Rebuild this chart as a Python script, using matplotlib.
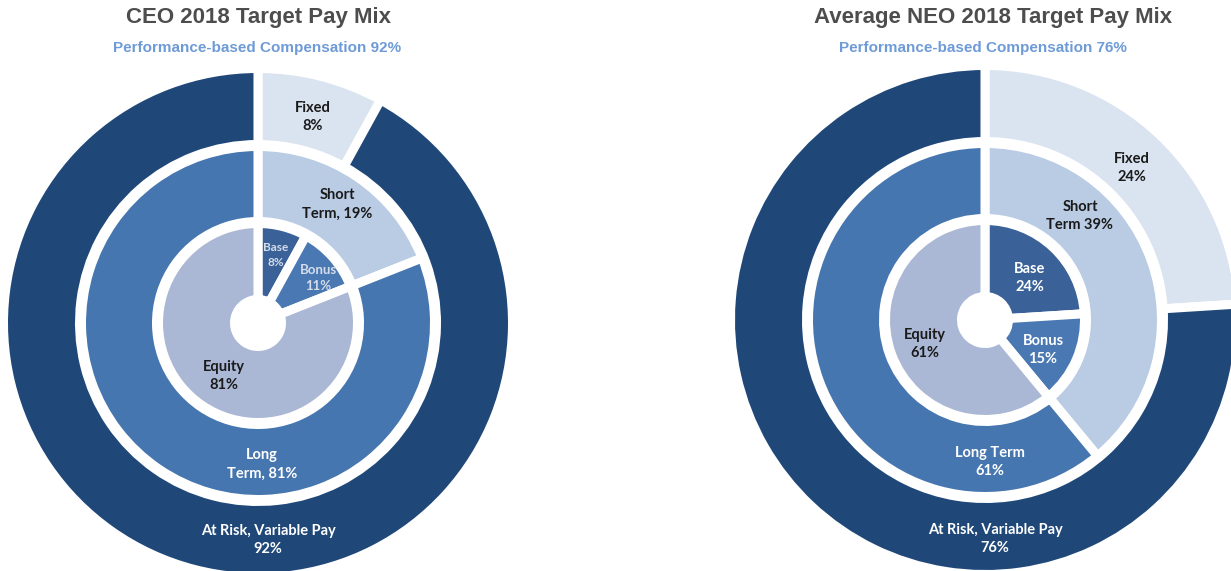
import matplotlib
matplotlib.use("Agg")
import matplotlib.pyplot as plt

# ---------------- data ----------------
ceo_title = "CEO 2018 Target Pay Mix"
ceo_subtitle = "Performance-based Compensation 92%"
ceo_outer_values = [8, 92]
ceo_outer_text = ["Fixed\n8%", "At Risk, Variable Pay\n92%"]
ceo_mid_values = [19, 81]
ceo_mid_text = ["Short\nTerm, 19%", "Long\nTerm, 81%"]
ceo_inner_values = [8, 11, 81]
ceo_inner_text = ["Base\n8%", "Bonus\n11%", "Equity\n81%"]

neo_title = "Average NEO 2018 Target Pay Mix"
neo_subtitle = "Performance-based Compensation 76%"
neo_outer_values = [24, 76]
neo_outer_text = ["Fixed\n24%", "At Risk, Variable Pay\n76%"]
neo_mid_values = [39, 61]
neo_mid_text = ["Short\nTerm 39%", "Long Term\n61%"]
neo_inner_values = [24, 15, 61]
neo_inner_text = ["Base\n24%", "Bonus\n15%", "Equity\n61%"]

# ---------------- style ----------------
outer_colors = ["#DAE3F0", "#1F4879"]
mid_colors = ["#B9CCE4", "#4676AF"]
inner_colors = ["#3A6298", "#4A78B2", "#AAB8D6"]
outer_tc = ["#1a1a1a", "white"]
mid_tc = ["#1a1a1a", "white"]
DARK = "#1a1a1a"

W, H = 1231, 571
fig = plt.figure(figsize=(W / 100, H / 100), dpi=100)
fig.patch.set_facecolor("white")

LW = 6.5
E = LW * 100 / 72 / 2  # px eroded by white edge per side
# visible radii (px)
R = {"outer": (183, 250), "mid": (106, 172), "inner": (28, 95)}

LABEL_FONT = ["Lato", "DejaVu Sans"]


def ring(ax, values, colors, key):
    rin, rout = R[key]
    g_out = rout + E
    g_in = rin - E
    ax.pie(values, colors=colors, radius=g_out, startangle=90, counterclock=False,
           wedgeprops=dict(width=g_out - g_in, edgecolor="white", linewidth=LW))


def chart(cx, cy, title, subtitle, title_x, sub_x,
          ov, ot, mv, mt, iv, it, offsets, inner_tc, inner_fs):
    ax = fig.add_axes([(cx - 300) / W, (H - cy - 300) / H, 600 / W, 600 / H])
    ring(ax, ov, outer_colors, "outer")
    ring(ax, mv, mid_colors, "mid")
    ring(ax, iv, inner_colors, "inner")
    ax.set_xlim(-300, 300)
    ax.set_ylim(-300, 300)
    ax.set_aspect("equal")
    ax.set_axis_off()

    texts = ot + mt + it
    colors = outer_tc + mid_tc + inner_tc
    sizes = [10.5, 10.5, 10.5, 10.5] + inner_fs
    for t, c, (dx, dy), fs in zip(texts, colors, offsets, sizes):
        ax.text(dx, dy, t, ha="center", va="center", color=c, fontsize=fs,
                fontweight="bold", family=LABEL_FONT, linespacing=1.45)

    fig.text(title_x / W, 1 - 18 / H, title, ha="center", va="center",
             fontsize=16, fontweight="bold", color="#4D4D4D",
             family=["Liberation Sans", "DejaVu Sans"])
    fig.text(sub_x / W, 1 - 48 / H, subtitle, ha="center", va="center",
             fontsize=11, fontweight="bold", color="#6E9BD6",
             family=["Liberation Sans", "DejaVu Sans"])


# label offsets (px from centre): Fixed, AtRisk, Short, Long, Base, Bonus, Equity
ceo_offsets = [(55, 206), (10, -217), (79, 119), (4, -141), (18, 68), (60, 45), (-34, -53)]
neo_offsets = [(147, 152), (10, -219), (95, 104), (5, -142), (45, 42), (58, -30), (-60, -24)]

chart(258, 323, ceo_title, ceo_subtitle, 258, 257,
      ceo_outer_values, ceo_outer_text, ceo_mid_values, ceo_mid_text,
      ceo_inner_values, ceo_inner_text, ceo_offsets,
      ["#D5DDEA", "#D5DDEA", DARK], [8.5, 9.5, 10.5])

chart(985, 320, neo_title, neo_subtitle, 993, 983,
      neo_outer_values, neo_outer_text, neo_mid_values, neo_mid_text,
      neo_inner_values, neo_inner_text, neo_offsets,
      ["white", "white", DARK], [10.5, 10.5, 10.5])

fig.savefig("out.png", dpi=100, facecolor="white")
